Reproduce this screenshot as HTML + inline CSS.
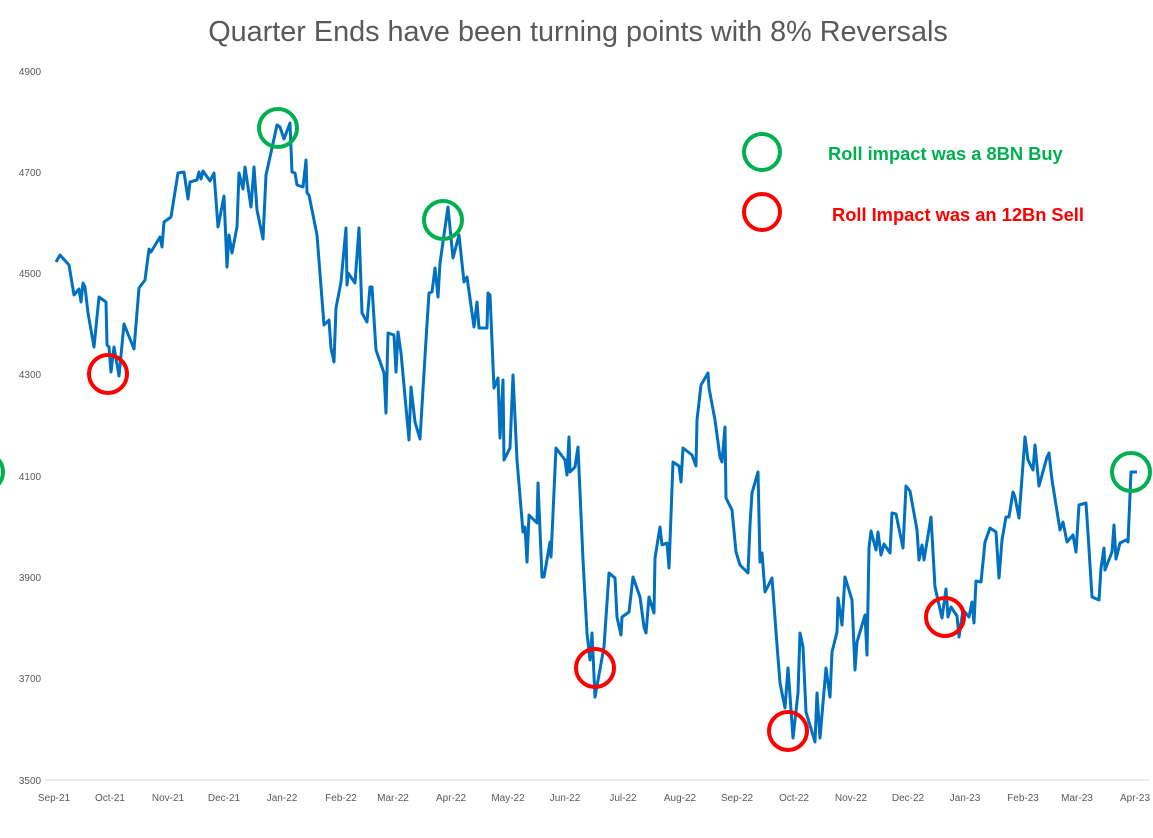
<!DOCTYPE html>
<html><head><style>
html,body{margin:0;padding:0;background:#fff;}
svg{display:block;font-family:"Liberation Sans",sans-serif;}
</style></head><body>
<svg width="1153" height="838" viewBox="0 0 1153 838">
<text x="578" y="41" text-anchor="middle" font-size="28.8" fill="#595959">Quarter Ends have been turning points with 8% Reversals</text>
<g font-size="10" fill="#595959" text-anchor="middle">
<text x="30" y="75">4900</text><text x="30" y="176">4700</text><text x="30" y="277">4500</text><text x="30" y="378">4300</text><text x="30" y="480">4100</text><text x="30" y="581">3900</text><text x="30" y="682">3700</text><text x="30" y="784">3500</text>
</g>
<line x1="45" y1="780" x2="1150" y2="780" stroke="#d9d9d9" stroke-width="1"/>
<g font-size="10" fill="#595959" text-anchor="middle">
<text x="54" y="801">Sep-21</text><text x="110" y="801">Oct-21</text><text x="168" y="801">Nov-21</text><text x="224" y="801">Dec-21</text><text x="282" y="801">Jan-22</text><text x="341" y="801">Feb-22</text><text x="393" y="801">Mar-22</text><text x="451" y="801">Apr-22</text><text x="508" y="801">May-22</text><text x="565" y="801">Jun-22</text><text x="623" y="801">Jul-22</text><text x="680" y="801">Aug-22</text><text x="737" y="801">Sep-22</text><text x="794" y="801">Oct-22</text><text x="851" y="801">Nov-22</text><text x="908" y="801">Dec-22</text><text x="965" y="801">Jan-23</text><text x="1023" y="801">Feb-23</text><text x="1077" y="801">Mar-23</text><text x="1135" y="801">Apr-23</text>
</g>
<polyline fill="none" stroke="#0070c0" stroke-width="3" stroke-linejoin="round" points="56,262 60,255 69,265 74,295 79,289 81,302 83,283 85,287 88,313 94,347 99,297 106,302 107,345 109,347 111,372 114,347 119,376 124,324 134,349 139,288 145,280 149,249 151,252 160,237 162,247 164,222 171,217 178,173 184,172 188,199 190,182 197,180 199,172 201,179 203,171 210,181 214,173 218,227 224,196 227,267 229,235 232,253 237,227 239,173 243,189 245,167 251,207 254,167 257,210 263,239 266,175 272,148 277,125 280,127 284,139 290,123 292,172 295,173 297,185 303,187 306,160 307,193 309,195 317,235 324,325 329,320 331,348 334,362 336,308 341,282 346,228 347,285 348,273 355,283 359,228 362,313 367,322 370,287 372,287 376,350 384,373 386,413 388,333 394,335 396,372 398,332 401,353 409,440 411,387 415,422 420,439 426,340 429,293 432,292 435,268 438,297 440,263 448,207 453,258 459,235 464,282 467,277 474,327 477,302 479,328 487,328 488,293 490,295 494,388 498,378 500,438 503,380 504,460 510,448 513,375 517,460 523,532 525,527 527,562 529,515 537,523 538,483 542,577 544,577 550,542 551,557 556,448 565,460 567,475 569,437 570,472 575,467 578,447 583,560 587,633 590,660 592,633 595,697 604,647 609,573 615,578 617,617 621,635 622,617 629,612 633,577 640,597 644,627 646,633 649,597 654,613 655,558 660,527 662,545 667,543 669,568 673,462 679,466 681,482 683,448 692,455 696,466 697,420 701,385 708,373 709,388 715,420 720,457 722,462 725,427 726,498 732,510 736,552 740,565 748,573 750,525 752,493 758,472 760,562 762,553 765,592 772,578 777,645 780,683 785,708 788,668 793,738 798,693 800,633 803,647 806,712 815,742 817,693 820,738 826,668 830,697 832,652 837,632 838,598 842,625 845,577 852,600 855,670 857,642 865,615 867,655 869,548 871,531 876,550 878,532 881,555 884,544 890,553 892,513 896,514 903,548 906,486 910,491 917,530 919,560 922,545 924,560 931,517 935,587 942,618 946,589 948,617 951,607 957,616 959,637 963,610 969,617 972,602 974,623 976,581 981,582 985,542 990,528 996,532 999,578 1002,540 1006,517 1009,517 1013,492 1015,497 1019,518 1025,437 1028,460 1033,470 1035,445 1039,486 1047,457 1049,453 1052,480 1060,530 1063,522 1067,542 1073,535 1076,552 1079,505 1086,503 1088,533 1092,597 1099,600 1101,568 1104,548 1105,570 1112,552 1114,525 1116,559 1120,543 1126,540 1128,542 1131,472 1137,472"/>
<g fill="none" stroke-width="4">
<circle cx="108" cy="374" r="19" stroke="#ff0000"/>
<circle cx="278" cy="128" r="19" stroke="#00b050"/>
<circle cx="443" cy="220" r="19" stroke="#00b050"/>
<circle cx="595" cy="668" r="19" stroke="#ff0000"/>
<circle cx="788" cy="731" r="19" stroke="#ff0000"/>
<circle cx="945" cy="617" r="19" stroke="#ff0000"/>
<circle cx="1131" cy="472" r="19" stroke="#00b050"/>
<circle cx="-16" cy="472" r="19" stroke="#00b050"/>
<circle cx="762" cy="152" r="18" stroke="#00b050"/>
<circle cx="762" cy="212" r="18" stroke="#ff0000"/>
</g>
<text x="828" y="160" font-size="18.3" font-weight="bold" fill="#00b050">Roll impact was a 8BN Buy</text>
<text x="832" y="221" font-size="18.3" font-weight="bold" fill="#ff0000">Roll Impact was an 12Bn Sell</text>
</svg>
</body></html>
